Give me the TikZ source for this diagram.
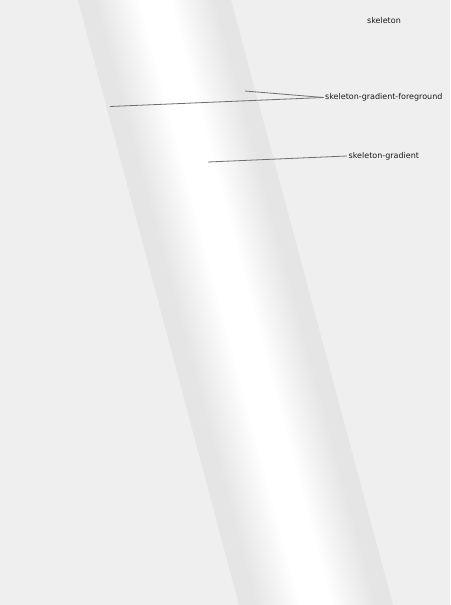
\documentclass[tikz,border=0pt]{standalone}
\usepackage{fontspec}
\setmainfont{DejaVu Sans}
\definecolor{bg}{HTML}{EFEFEF}
\definecolor{bandedge}{HTML}{E5E5E5}
\definecolor{bandmid}{HTML}{F4F4F4}
\definecolor{leader}{HTML}{6E6E6E}
\pgfdeclarehorizontalshading{bandshade}{700pt}{color(0pt)=(bandedge); color(18pt)=(bandedge); color(44pt)=(bandmid); color(62pt)=(white); color(91pt)=(white); color(109pt)=(bandmid); color(135pt)=(bandedge); color(153pt)=(bandedge)}
\begin{document}
\begin{tikzpicture}[x=1pt,y=-1pt,
  lbl/.style={font=\fontsize{8}{9.6}\selectfont, text=black!90, inner sep=1.5pt},
  leaderline/.style={draw=leader, line width=0.8pt}]
\useasboundingbox (0,0) rectangle (450,605);
\fill[bg] (0,0) rectangle (450,605);
\begin{scope}
  \clip (78,0) -- (231,0) -- (393,605) -- (239,605) -- cycle;
  \node[inner sep=0pt, outer sep=0pt, rotate=14.9] (band) at (235.25,302.5) {\pgfuseshading{bandshade}};
\end{scope}
\node[lbl] (skel) at (384,21) {skeleton};
\node[lbl, anchor=west] (fg) at (323.5,97.5) {skeleton-gradient-foreground};
\node[lbl, anchor=west] (gr) at (347,156) {skeleton-gradient};
\coordinate (fgA) at (245,91);
\coordinate (fgB) at (110,106.5);
\coordinate (grA) at (208,162);
\draw[leaderline] (fg.west) -- (fgA);
\draw[leaderline] (fg.west) -- (fgB);
\draw[leaderline] (gr.west) -- (grA);
\end{tikzpicture}
\end{document}
